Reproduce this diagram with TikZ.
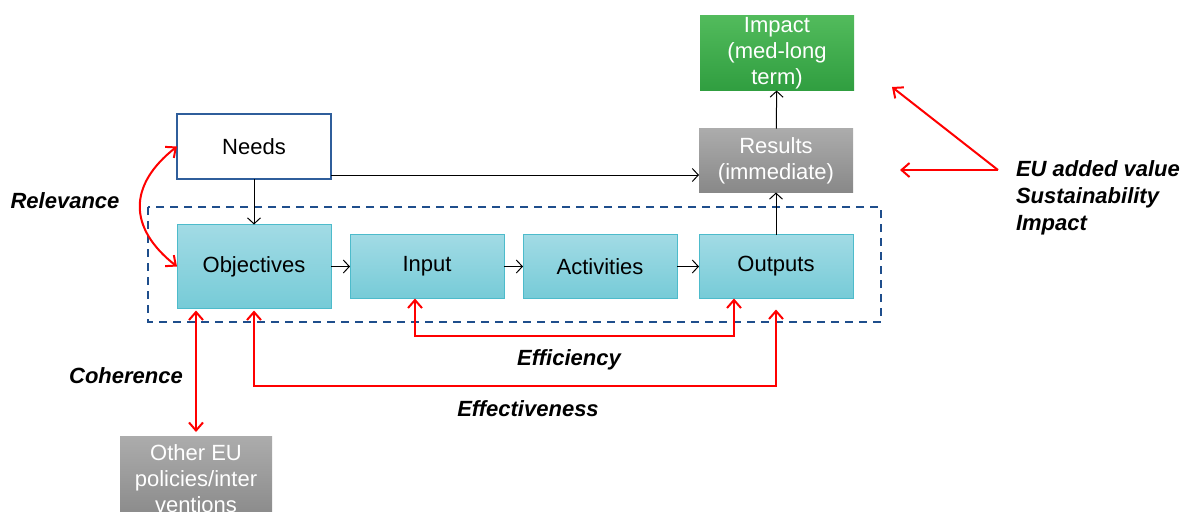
\documentclass[tikz,border=0pt]{standalone}
\usepackage{fontspec}
\setmainfont{Liberation Sans}
\usetikzlibrary{arrows.meta}
\definecolor{cyantop}{RGB}{162,219,229}
\definecolor{cyanbot}{RGB}{118,203,215}
\definecolor{cyanline}{RGB}{77,187,203}
\definecolor{greentop}{RGB}{82,187,92}
\definecolor{greenbot}{RGB}{48,158,64}
\definecolor{graytop}{RGB}{172,172,172}
\definecolor{graybot}{RGB}{136,136,136}
\definecolor{needline}{RGB}{47,94,155}
\definecolor{framecol}{RGB}{31,78,140}
\begin{document}
\begin{tikzpicture}
  [x=0.5pt,y=-0.5pt,font=\fontsize{11}{13}\selectfont,
   every node/.style={inner sep=0pt,outer sep=0pt},
   box/.style={rectangle,minimum width=77pt,minimum height=32pt,align=center},
   needbox/.style={box,draw=needline,line width=0.6pt,fill=white,minimum height=32.5pt},
   cyanbox/.style={box,draw=cyanline,line width=0.5pt,top color=cyantop,bottom color=cyanbot},
   graybox/.style={box,text=white,top color=graytop,bottom color=graybot},
   greenbox/.style={box,text=white,top color=greentop,bottom color=greenbot},
   lbl/.style={font=\fontsize{11}{13.5}\selectfont\bfseries\itshape,align=left},
   blackarr/.style={draw,-{Straight Barb[length=3pt,width=6.5pt]},line width=0.5pt},
   redarr/.style={{Straight Barb[length=4pt,width=7pt]}-{Straight Barb[length=4pt,width=7pt]},red,line width=1pt},
   redone/.style={-{Straight Barb[length=4pt,width=7pt]},red,line width=1pt}]
  \clip (0,0) rectangle (1184,511);

  % frame round the intervention
  \draw[framecol,line width=1pt,dash pattern=on 4pt off 3pt] (148,207) rectangle (881,322);

  \node[greenbox,minimum height=37.5pt] (imp) at (777,53) {Impact\\(med-long\\term)};
  \node[graybox] (res) at (776,160.5) {Results\\(immediate)};
  \node[needbox] (needs) at (254,146.5) {Needs};
  \node[cyanbox,minimum height=42pt] (obj) at (254,266.5) {Objectives};
  \node[cyanbox] (inp) at (427,266.5) {Input};
  \node[cyanbox] (act) at (600,266.5) {Activities};
  \node[cyanbox] (out) at (776,266.5) {Outputs};
  \node[graybox,minimum width=76pt,minimum height=43pt] (other) at (196,479)
    {Other EU\\policies/inter\\ventions};

  \node[lbl] (rel) at (65,201) {Relevance};
  \node[lbl] (coh) at (126,376) {Coherence};
  \node[lbl] (effi) at (569,360) {Efficiency};
  \node[lbl] (effe) at (528,409) {Effectiveness};
  \node[lbl,anchor=west] (euv) at (1016,198) {EU added value\\Sustainability\\Impact};

  \coordinate (ndsout) at (needs.east |- 0,175);
  \path[every edge/.style={blackarr}]
        (ndsout) edge (ndsout -| res.west)
        (needs) edge (obj)
        (obj) edge (inp)
        (inp) edge (act)
        (act) edge (out)
        (out) edge (res)
        (res) edge (imp);

  % evaluation criteria
  \draw[redarr] (needs.west) .. controls (128,185) and (128,228) .. (obj.west);
  \draw[redarr] ([yshift=-1pt]other.north |- obj.south) -- ([yshift=2pt]other.north);
  \coordinate (ef1) at (415,336);
  \coordinate (ef2) at (734,336);
  \draw[redarr] (ef1 |- inp.south) -- (ef1) -- (ef2) -- (ef2 |- out.south);
  \coordinate (ev1) at (254,386);
  \coordinate (ev2) at (776,386);
  \draw[redarr,shorten >=5.5pt] ([yshift=-1pt]obj.south) -- (ev1) -- (ev2) -- (out.south);
  \coordinate (eu) at (998,170);
  \coordinate (eutop) at (892,87);
  \coordinate (euleft) at (900,170);
  \draw[redone] (eu) -- (eutop);
  \draw[redone] (eu) -- (euleft);
\end{tikzpicture}
\end{document}
